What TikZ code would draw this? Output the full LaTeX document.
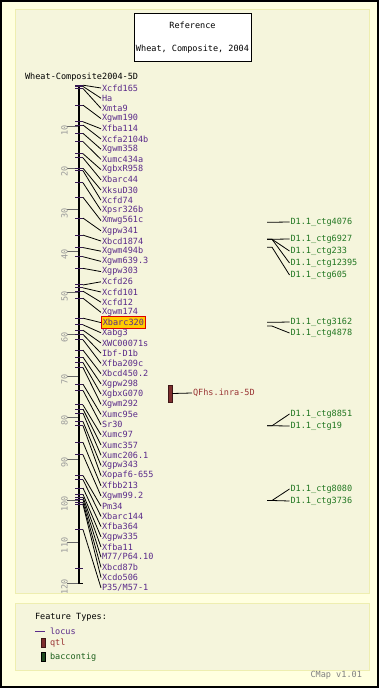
\documentclass[tikz,border=0pt]{standalone}
\usepackage{fontspec}
\newfontfamily\mapfont{DejaVu Sans Mono}
\usetikzlibrary{positioning}

\definecolor{pagebg}{HTML}{FFFFE0}
\definecolor{panelbg}{HTML}{F5F5DC}
\definecolor{panelline}{HTML}{EEEEB0}
\definecolor{locuscol}{HTML}{5A2A8A}
\definecolor{qtlcol}{HTML}{7E2E2E}
\definecolor{qtltext}{HTML}{993333}
\definecolor{ctgcol}{HTML}{227722}
\definecolor{ctgbar}{HTML}{1F4A1F}
\definecolor{scalegray}{HTML}{999999}
\definecolor{markfill}{HTML}{FFCC00}
\definecolor{markline}{HTML}{DD0000}

\tikzset{
  maptext/.style={font=\mapfont\fontsize{6.4}{7}\selectfont, inner sep=0.6pt},
  locus/.style={maptext, text=locuscol, anchor=west},
  hilite/.style={locus, fill=markfill, draw=markline, line width=0.75pt,
    inner xsep=1pt, inner ysep=1.8pt},
  contig/.style={maptext, text=ctgcol, anchor=west},
  cmlabel/.style={maptext, text=scalegray, rotate=90},
  conn/.style={line width=0.6pt},
  qtlbar/.style={draw=qtlcol!50!black, fill=qtlcol, line width=0.5pt,
    inner sep=0pt, minimum width=3pt, minimum height=12.75pt},
}

\begin{document}
\begin{tikzpicture}[x=0.75pt, y=-0.75pt]
  \useasboundingbox (0,0) rectangle (379,688);

  % page and panels
  \fill[pagebg] (0,0) rectangle (379,688);
  \draw[line width=1.2pt] (0.8,0.8) rectangle (378.2,687.2);
  \filldraw[fill=panelbg, draw=panelline, line width=0.75pt] (15,10) rectangle (369,593);
  \filldraw[fill=panelbg, draw=panelline, line width=0.75pt] (15,603) rectangle (369,670);

  % reference box
  \node[maptext, draw, fill=white, line width=0.75pt, align=center,
    minimum width=87.75pt, minimum height=36pt] (ref) at (192.5,38)
    {Reference\\[10.25pt]Wheat, Composite, 2004};

  % chromosome
  \node[maptext, anchor=west] (chr) at (24,77) {Wheat-Composite2004-5D};
  \coordinate (top) at (79,85.2);
  \coordinate (bot) at (79,583.6);
  \draw[line width=2.2pt] (top) -- (bot);
  \draw[line width=0.9pt] (top) +(-4,0) -- +(4,0);
  \draw[line width=0.9pt] (bot) +(-4,0) -- +(4,0);

  % scale
  \foreach \c in {10,20,...,120} {
    \draw[black!60, line width=0.6pt] (67, 85.2+4.153*\c) -- (78, 85.2+4.153*\c);
    \node[cmlabel] (s\c) at (64.5, 88.5+4.153*\c) {\c};
  }
  \draw[locuscol!60!black, line width=0.75pt] (75, 568.2) -- (83, 568.2);

  % loci
  \foreach \lab/\cm [count=\i from 0] in {Xcfd165/0, Ha/0.3, Xmta9/0.8,
      Xgwm190/4.8, Xfba114/8.8, Xcfa2104b/9.6, Xgwm358/11.6, Xumc434a/13.6,
      XgbxR958/16.5, Xbarc44/17.5, XksuD30/20, Xcfd74/20.6, Xpsr326b/23.5,
      Xmwg561c/27, Xgpw341/32, Xbcd1874/36.1, Xgwm494b/39.1, Xgwm639.3/41.3,
      Xgpw303/44.1, Xcfd26/48.1, Xcfd101/48.8, Xcfd12/49.6, Xgwm174/51.3,
      Xbarc320/56.1, Xabg3/57.7, XWC00071s/59, Ibf-D1b/60, Xfba209c/61.3,
      Xbcd450.2/63.8, Xgpw298/65.5, XgbxG070/66.8, Xgwm292/68, Xumc95e/72,
      Sr30/73.5, Xumc97/77, Xumc357/78, Xumc206.1/79, Xgpw343/81,
      Xopaf6-655/82, Xfbb213/86, Xgwm99.2/89, Pm34/94, Xbarc144/95,
      Xfba364/97, Xgpw335/98.5, Xfba11/99.2, {M77/P64.10}/99.8,
      Xbcd87b/100.5, Xcdo506/101, {P35/M57-1}/107} {
    \coordinate (f\i) at (83, 85.2+4.153*\cm);
    \draw[locuscol!60!black, line width=0.75pt] (75, 85.2+4.153*\cm) -- (f\i);
    \ifnum\i=23 \def\sty{hilite}\else\def\sty{locus}\fi
    \node[\sty] (l\i) at (101, 88+10.2*\i) {\lab};
    \draw[conn] (f\i) -- (l\i.west);
  }

  % qtl
  \node[qtlbar] (q) at (170,393.5) {};
  \node[maptext, text=qtltext, anchor=west] (qlab) at (192,393) {QFhs.inra-5D};
  \draw[conn] (q.east) -- (qlab.west);

  % bac contigs
  \foreach \lab/\cm/\ly [count=\j] in {D1.1\_ctg4076/33/222,
      D1.1\_ctg6927/37.1/239, D1.1\_ctg233/37.1/251, D1.1\_ctg12395/37.1/263,
      D1.1\_ctg605/39/275, D1.1\_ctg3162/57.1/322, D1.1\_ctg4878/58/333,
      D1.1\_ctg8851/82/414, D1.1\_ctg19/82/426, D1.1\_ctg8080/100/489,
      D1.1\_ctg3736/100/501} {
    \coordinate (g\j) at (267, 85.2+4.153*\cm);
    \node[contig] (c\j) at (289.5,\ly) {\lab};
    \draw[conn] (g\j) -- ++(5,0) -- (c\j.west);
  }

  % legend
  \node[maptext, anchor=west] (ftypes) at (34,617) {Feature Types:};
  \coordinate (lk) at (35,631.5);
  \node[maptext, text=locuscol, anchor=west] (ltxt) at (49,631.5) {locus};
  \draw[locuscol, line width=0.75pt] (lk) -- ++(10,0);
  \node[qtlbar, minimum height=6.75pt, minimum width=2.6pt] (lq) at (43.5,643) {};
  \node[maptext, text=qtltext, anchor=west] (qtxt) at (49,643) {qtl};
  \node[qtlbar, draw=black, fill=ctgbar, minimum height=6.75pt, minimum width=2.6pt] (lc) at (43.5,656.5) {};
  \node[maptext, text=ctgcol!80!black, anchor=west] (ctxt) at (49,657) {baccontig};
  \node[maptext, text=black!50, anchor=east] (ver) at (363,675) {CMap v1.01};
\end{tikzpicture}
\end{document}
